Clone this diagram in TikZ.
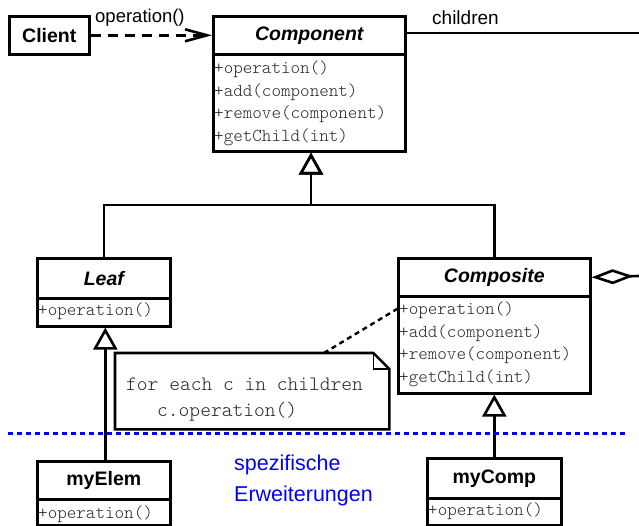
\documentclass[tikz,border=0pt]{standalone}
\usepackage{fontspec}
\setmainfont{Liberation Sans}
\newfontfamily\monofont{Latin Modern Mono Light}
\usetikzlibrary{arrows.meta}

\begin{document}
\begin{tikzpicture}[x=1pt,y=-1pt,
  every node/.style={inner sep=0pt},
  uml/.style={draw, line width=2.6pt, anchor=north west},
  classname/.style={uml, font=\fontsize{19.5}{20}\selectfont\bfseries},
  abstractname/.style={classname, font=\fontsize{19.5}{20}\selectfont\bfseries\itshape},
  op/.style={anchor=base west, font=\monofont\fontsize{18.2}{18}\selectfont, text=black!85},
  notetext/.style={anchor=base west, font=\monofont\fontsize{20.5}{20}\selectfont, text=black!85},
  label/.style={anchor=base west, font=\fontsize{18.5}{19}\selectfont},
  bluetext/.style={anchor=base west, font=\fontsize{21.5}{22}\selectfont, text=blue},
  link/.style={line width=2.6pt},
  inherit/.style={link, -{Triangle[open, length=22pt, width=24pt]}},
  aggregate/.style={link, -{Diamond[open, length=42pt, width=15pt]}},
  usage/.style={link, dash pattern=on 10pt off 7pt, -{Straight Barb[length=22pt, width=12pt]}},
  notelink/.style={line width=2.4pt, dash pattern=on 5pt off 4pt},
  layerline/.style={line width=3pt, blue, dash pattern=on 5pt off 4pt},
]
\useasboundingbox (0,0) rectangle (639,526);

% Client
\node[classname, minimum width=80pt, minimum height=38pt] (client) at (8,15) {Client};

% Component
\node[abstractname, minimum width=192pt, minimum height=38pt] (component) at (212,15) {Component};
\node[uml, minimum width=192pt, minimum height=97pt] (componentOps) at (212,53) {};
\node[op] (c1) at (214,74) {+operation()};
\node[op] (c2) at (214,97) {+add(component)};
\node[op] (c3) at (214,119) {+remove(component)};
\node[op] (c4) at (214,142) {+getChild(int)};

% Leaf
\node[abstractname, minimum width=133pt, minimum height=40pt] (leaf) at (36,257) {Leaf};
\node[uml, minimum width=133pt, minimum height=28pt] (leafOps) at (36,297) {};
\node[op] (l1) at (38,315) {+operation()};

% Composite
\node[abstractname, minimum width=192pt, minimum height=38pt] (composite) at (397,257) {Composite};
\node[uml, minimum width=192pt, minimum height=97pt] (compositeOps) at (397,295) {};
\node[op] (k1) at (399,314) {+operation()};
\node[op] (k2) at (399,337) {+add(component)};
\node[op] (k3) at (399,359) {+remove(component)};
\node[op] (k4) at (399,382) {+getChild(int)};

% myElem
\node[classname, minimum width=133pt, minimum height=38pt] (myElem) at (36,460) {myElem};
\node[uml, minimum width=133pt, minimum height=26pt] (myElemOps) at (36,498) {};
\node[op] (e1) at (38,518) {+operation()};

% myComp
\node[classname, minimum width=134pt, minimum height=40pt] (myComp) at (426,457) {myComp};
\node[uml, minimum width=134pt, minimum height=27pt] (myCompOps) at (426,497) {};
\node[op] (m1) at (428,515) {+operation()};

% Client uses Component
\draw[usage] (client.east) -- (component.west);
\node[label] (opLabel) at (95,23) {operation()};

% children association leaving to the right
\coordinate (childrenEnd) at (639,33);
\draw[link] (component.east |- childrenEnd) -- (childrenEnd);
\node[label, font=\fontsize{19}{19}\selectfont] (childrenLabel) at (432,25) {children};

% generalisations
\coordinate (junction) at (311,205);
\draw[inherit] (leaf.north) |- (junction) -- (componentOps.south -| junction);
\draw[inherit] (composite.north) |- (junction) -- (componentOps.south -| junction);
\draw[inherit] ([xshift=1.5pt]myElem.north) -- ([xshift=1.5pt]leafOps.south);
\draw[inherit] (myComp.north) -- (compositeOps.south);

% aggregation
\coordinate (aggEnd) at (639,276);
\draw[aggregate] (aggEnd) -- (composite.east);

% note with folded corner
\node[minimum width=274pt, minimum height=76pt, anchor=north west] (note) at (115,353) {};
\draw[link, line join=miter] (note.north west) -- ([xshift=-16pt]note.north east)
  -- ([yshift=-16pt]note.north east) -- (note.south east) -- (note.south west) -- cycle;
\draw[line width=1.6pt] ([xshift=-16pt]note.north east) |- ([yshift=-16pt]note.north east);
\node[notetext] (n1) at (126,390) {for each c in children};
\node[notetext] (n2) at (157,416) {c.operation()};
\coordinate (noteAnchor) at ([xshift=209pt]note.north west);
\coordinate (opAnchor) at ([yshift=-14pt]compositeOps.north west);
\draw[notelink] (noteAnchor) -- (opAnchor);

% layer boundary
\coordinate (layerL) at (8,433);
\coordinate (layerR) at (628,433);
\draw[layerline] (layerL) -- (layerR);
\node[bluetext] (b1) at (234,470) {spezifische};
\node[bluetext] (b2) at (234,501) {Erweiterungen};
\end{tikzpicture}
\end{document}
